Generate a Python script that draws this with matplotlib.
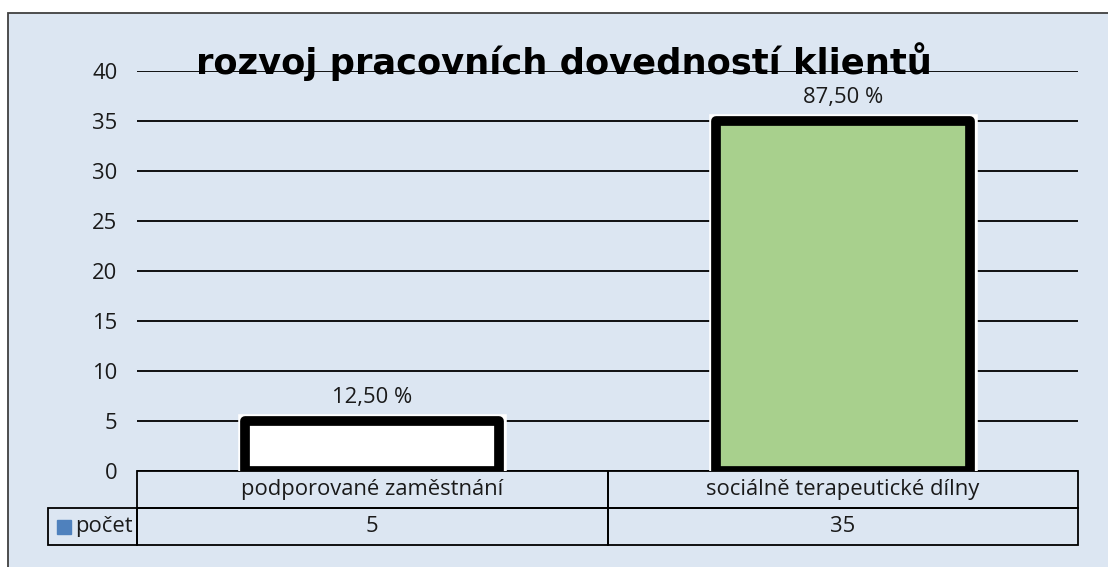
import matplotlib
matplotlib.use("Agg")
import matplotlib.pyplot as plt
import matplotlib.patheffects as pe
from matplotlib.patches import Rectangle
from matplotlib.table import Table

# ---- data ----
title = "rozvoj pracovních dovedností klientů"
categories = ["podporované zaměstnání", "sociálně terapeutické dílny"]
values = [5, 35]
series_name = "počet"
bar_colors = ["#ffffff", "#a8d08d"]
yticks = [0, 5, 10, 15, 20, 25, 30, 35, 40]

BG = "#dce6f2"
TXT = "#1a1a1a"
FONT = "Open Sans"
FS = 15.8

plt.rcParams["font.family"] = [FONT, "DejaVu Sans"]

W, H = 1108, 567
fig = plt.figure(figsize=(W / 100, H / 100), dpi=100)
fig.patch.set_facecolor("white")

# outer chart area with border
bg = Rectangle((8 / W, -0.05), 1.2, (1 - 13 / H) + 0.05, transform=fig.transFigure,
               facecolor=BG, edgecolor="#404040", linewidth=1.3, zorder=-10)
fig.patches.append(bg)

ax_l, ax_r, ax_t, ax_b = 137, 1078, 71, 471
ax = fig.add_axes([ax_l / W, 1 - ax_b / H, (ax_r - ax_l) / W, (ax_b - ax_t) / H])
ax.set_facecolor("none")

x = list(range(len(categories)))
bars = ax.bar(x, values, width=0.54, color=bar_colors, edgecolor="black",
              linewidth=7, zorder=3)
for b in bars:
    b.set_joinstyle("round")
    b.set_path_effects([pe.Stroke(linewidth=10.5, foreground="white", joinstyle="miter"),
                        pe.Normal()])

total = sum(values)
labels = [f"{v / total * 100:.2f}".replace(".", ",") + " %" for v in values]
ax.bar_label(bars, labels=labels, padding=9, fontsize=FS, color=TXT)

ax.set_xlim(-0.5, len(categories) - 0.5)
ax.set_ylim(0, 40)
ax.set_yticks(yticks)
ax.set_yticklabels([str(t) for t in yticks], fontsize=FS, color=TXT)
ax.tick_params(axis="y", length=0, pad=14)
ax.set_xticks([])
ax.yaxis.grid(True, color="black", linewidth=1.3)
ax.set_axisbelow(True)
for s in ax.spines.values():
    s.set_visible(False)

# data table
lab_w = 137 - 48
col_w = (ax_r - ax_l) / len(categories)
tb_h = (508 - 471) / (ax_b - ax_t)
tbl = Table(ax, bbox=[-lab_w / (ax_r - ax_l), -2 * tb_h, 1 + lab_w / (ax_r - ax_l), 2 * tb_h])
corner = tbl.add_cell(0, 0, width=lab_w, height=1, text="", facecolor="none")
corner.visible_edges = ""
for i, c in enumerate(categories):
    cell = tbl.add_cell(0, i + 1, width=col_w, height=1, text=c, loc="center", facecolor="none")
for i, v in enumerate(values):
    cell = tbl.add_cell(1, i + 1, width=col_w, height=1, text=str(v), loc="center", facecolor="none")
lc = tbl.add_cell(1, 0, width=lab_w, height=1, text=series_name, loc="left", facecolor="none")
lc.PAD = 0.3
tbl.auto_set_font_size(False)
tbl.set_fontsize(FS)
for key, cell in tbl.get_celld().items():
    cell.set_edgecolor("black")
    cell.set_linewidth(1.3)
    cell.get_text().set_color(TXT)
    cell.get_text().set_fontfamily([FONT, "DejaVu Sans"])
tbl.set_clip_on(False)
ax.add_table(tbl)

# legend key in table
ax.plot([(64 - ax_l) / (ax_r - ax_l)], [(ax_b - 527) / (ax_b - ax_t)], marker="s",
        markersize=10, color="#4f81bd", transform=ax.transAxes, clip_on=False, zorder=5)

fig.text(564 / W, 1 - 74 / H, title, ha="center", va="baseline", fontsize=25.4,
         fontweight="bold", color="black", family=["DejaVu Sans"])

fig.savefig("out.png", dpi=100, facecolor="white")
